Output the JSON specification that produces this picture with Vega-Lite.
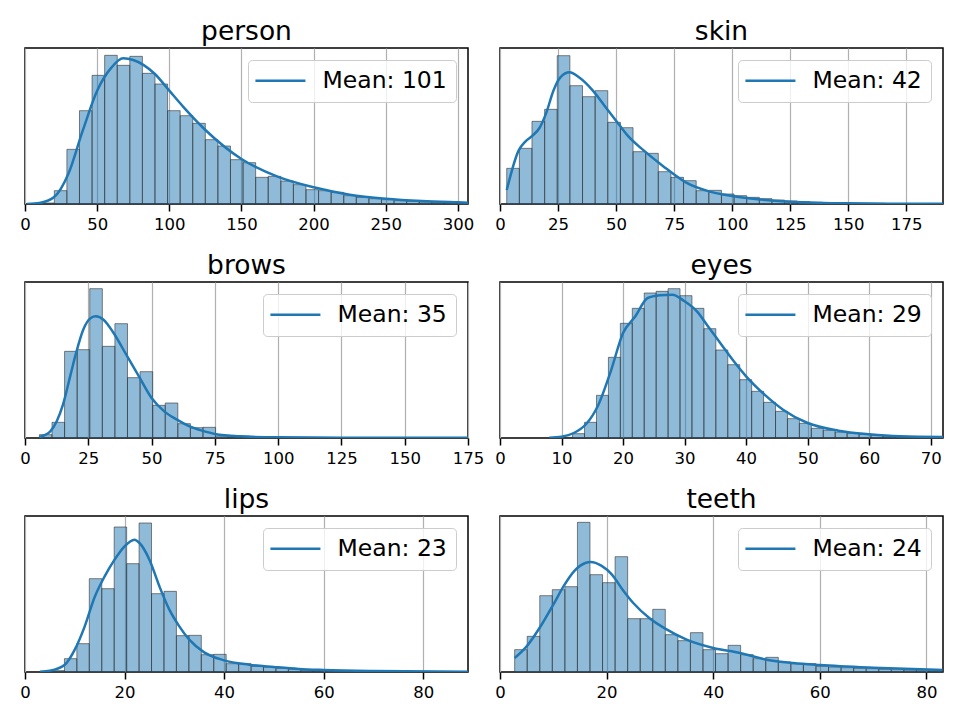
{
  "$schema": "https://vega.github.io/schema/vega-lite/v6.json",
  "background": "white",
  "padding": {"left": 19, "top": 17, "right": 10, "bottom": 10},
  "bounds": "flush",
  "columns": 2,
  "spacing": {"row": 78, "column": 32},
  "resolve": {"scale": {"color": "independent"}, "legend": {"color": "independent"}},
  "config": {
    "font": "DejaVu Sans",
    "view": {"stroke": "black", "strokeWidth": 1.5},
    "title": {"fontSize": 26.5, "font": "DejaVu Sans", "fontWeight": "normal", "color": "black", "offset": 3, "baseline": "alphabetic", "anchor": "middle"},
    "axisX": {"domain": false, "grid": true, "gridColor": "#b0b0b0", "gridWidth": 1.2, "tickColor": "black", "tickSize": 7, "tickWidth": 1.5, "labelFontSize": 16.5, "labelFont": "DejaVu Sans", "labelColor": "black", "labelPadding": 5, "title": null, "labelFlush": false, "labelOverlap": false},
    "legend": {"orient": "top-right", "offset": 12, "title": null, "symbolType": "M-1.6,0H4.4", "symbolSize": 278, "symbolStrokeWidth": 2.5, "symbolFillColor": "transparent", "labelFontSize": 23.5, "labelFont": "DejaVu Sans", "labelColor": "black", "labelOffset": 42, "padding": 9, "fillColor": "rgba(255,255,255,0.8)", "strokeColor": "#cccccc", "cornerRadius": 4}
  },
  "datasets": {
    "bars": [
      {"p": "person", "a": 11.6, "b": 20.32, "h": 3},
      {"p": "person", "a": 20.32, "b": 29.04, "h": 40},
      {"p": "person", "a": 29.04, "b": 37.76, "h": 164},
      {"p": "person", "a": 37.76, "b": 46.48, "h": 280},
      {"p": "person", "a": 46.48, "b": 55.2, "h": 386},
      {"p": "person", "a": 55.2, "b": 63.92, "h": 446},
      {"p": "person", "a": 63.92, "b": 72.64, "h": 416},
      {"p": "person", "a": 72.64, "b": 81.36, "h": 443},
      {"p": "person", "a": 81.36, "b": 90.08, "h": 392},
      {"p": "person", "a": 90.08, "b": 98.8, "h": 360},
      {"p": "person", "a": 98.8, "b": 107.52, "h": 280},
      {"p": "person", "a": 107.52, "b": 116.24, "h": 265},
      {"p": "person", "a": 116.24, "b": 124.96, "h": 242},
      {"p": "person", "a": 124.96, "b": 133.68, "h": 193},
      {"p": "person", "a": 133.68, "b": 142.4, "h": 174},
      {"p": "person", "a": 142.4, "b": 151.12, "h": 133},
      {"p": "person", "a": 151.12, "b": 159.84, "h": 124},
      {"p": "person", "a": 159.84, "b": 168.56, "h": 80},
      {"p": "person", "a": 168.56, "b": 177.28, "h": 83},
      {"p": "person", "a": 177.28, "b": 186.0, "h": 69},
      {"p": "person", "a": 186.0, "b": 194.72, "h": 58},
      {"p": "person", "a": 194.72, "b": 203.44, "h": 43},
      {"p": "person", "a": 203.44, "b": 212.16, "h": 40},
      {"p": "person", "a": 212.16, "b": 220.88, "h": 35},
      {"p": "person", "a": 220.88, "b": 229.6, "h": 25},
      {"p": "person", "a": 229.6, "b": 238.32, "h": 20},
      {"p": "person", "a": 238.32, "b": 247.04, "h": 16},
      {"p": "person", "a": 247.04, "b": 255.76, "h": 13},
      {"p": "person", "a": 255.76, "b": 264.48, "h": 10},
      {"p": "person", "a": 264.48, "b": 273.2, "h": 8},
      {"p": "person", "a": 273.2, "b": 281.92, "h": 6},
      {"p": "person", "a": 281.92, "b": 290.64, "h": 5},
      {"p": "person", "a": 290.64, "b": 299.36, "h": 4},
      {"p": "person", "a": 299.36, "b": 308.08, "h": 3},

      {"p": "skin", "a": 2.9, "b": 8.34, "h": 107},
      {"p": "skin", "a": 8.34, "b": 13.78, "h": 167},
      {"p": "skin", "a": 13.78, "b": 19.22, "h": 248},
      {"p": "skin", "a": 19.22, "b": 24.66, "h": 284},
      {"p": "skin", "a": 24.66, "b": 30.1, "h": 445},
      {"p": "skin", "a": 30.1, "b": 35.54, "h": 355},
      {"p": "skin", "a": 35.54, "b": 40.98, "h": 322},
      {"p": "skin", "a": 40.98, "b": 46.42, "h": 340},
      {"p": "skin", "a": 46.42, "b": 51.86, "h": 245},
      {"p": "skin", "a": 51.86, "b": 57.3, "h": 229},
      {"p": "skin", "a": 57.3, "b": 62.74, "h": 157},
      {"p": "skin", "a": 62.74, "b": 68.18, "h": 152},
      {"p": "skin", "a": 68.18, "b": 73.62, "h": 97},
      {"p": "skin", "a": 73.62, "b": 79.06, "h": 80},
      {"p": "skin", "a": 79.06, "b": 84.5, "h": 70},
      {"p": "skin", "a": 84.5, "b": 89.94, "h": 40},
      {"p": "skin", "a": 89.94, "b": 95.38, "h": 41},
      {"p": "skin", "a": 95.38, "b": 100.82, "h": 30},
      {"p": "skin", "a": 100.82, "b": 106.26, "h": 25},
      {"p": "skin", "a": 106.26, "b": 111.7, "h": 20},
      {"p": "skin", "a": 111.7, "b": 117.14, "h": 16},
      {"p": "skin", "a": 117.14, "b": 122.58, "h": 12},
      {"p": "skin", "a": 122.58, "b": 128.02, "h": 9},
      {"p": "skin", "a": 128.02, "b": 133.46, "h": 7},
      {"p": "skin", "a": 133.46, "b": 138.9, "h": 5},
      {"p": "skin", "a": 138.9, "b": 144.34, "h": 4},
      {"p": "skin", "a": 144.34, "b": 149.78, "h": 3},
      {"p": "skin", "a": 149.78, "b": 155.22, "h": 2},
      {"p": "skin", "a": 155.22, "b": 160.66, "h": 2},
      {"p": "skin", "a": 160.66, "b": 166.1, "h": 2},
      {"p": "skin", "a": 166.1, "b": 171.54, "h": 1},
      {"p": "skin", "a": 171.54, "b": 176.98, "h": 1},
      {"p": "skin", "a": 176.98, "b": 182.42, "h": 1},
      {"p": "skin", "a": 182.42, "b": 187.86, "h": 1},
      {"p": "skin", "a": 187.86, "b": 193.3, "h": 1},

      {"p": "brows", "a": 5.7, "b": 10.67, "h": 10},
      {"p": "brows", "a": 10.67, "b": 15.64, "h": 47},
      {"p": "brows", "a": 15.64, "b": 20.61, "h": 260},
      {"p": "brows", "a": 20.61, "b": 25.58, "h": 265},
      {"p": "brows", "a": 25.58, "b": 30.55, "h": 448},
      {"p": "brows", "a": 30.55, "b": 35.52, "h": 275},
      {"p": "brows", "a": 35.52, "b": 40.49, "h": 343},
      {"p": "brows", "a": 40.49, "b": 45.46, "h": 181},
      {"p": "brows", "a": 45.46, "b": 50.43, "h": 199},
      {"p": "brows", "a": 50.43, "b": 55.4, "h": 98},
      {"p": "brows", "a": 55.4, "b": 60.37, "h": 105},
      {"p": "brows", "a": 60.37, "b": 65.34, "h": 43},
      {"p": "brows", "a": 65.34, "b": 70.31, "h": 31},
      {"p": "brows", "a": 70.31, "b": 75.28, "h": 32},
      {"p": "brows", "a": 75.28, "b": 80.25, "h": 6},
      {"p": "brows", "a": 80.25, "b": 85.22, "h": 3},
      {"p": "brows", "a": 85.22, "b": 90.19, "h": 2},
      {"p": "brows", "a": 90.19, "b": 95.16, "h": 1},
      {"p": "brows", "a": 95.16, "b": 100.13, "h": 1},
      {"p": "brows", "a": 100.13, "b": 105.1, "h": 1},

      {"p": "eyes", "a": 9.86, "b": 11.8, "h": 2},
      {"p": "eyes", "a": 11.8, "b": 13.74, "h": 13},
      {"p": "eyes", "a": 13.74, "b": 15.68, "h": 47},
      {"p": "eyes", "a": 15.68, "b": 17.62, "h": 128},
      {"p": "eyes", "a": 17.62, "b": 19.56, "h": 242},
      {"p": "eyes", "a": 19.56, "b": 21.5, "h": 344},
      {"p": "eyes", "a": 21.5, "b": 23.44, "h": 389},
      {"p": "eyes", "a": 23.44, "b": 25.38, "h": 435},
      {"p": "eyes", "a": 25.38, "b": 27.32, "h": 440},
      {"p": "eyes", "a": 27.32, "b": 29.26, "h": 448},
      {"p": "eyes", "a": 29.26, "b": 31.2, "h": 427},
      {"p": "eyes", "a": 31.2, "b": 33.14, "h": 389},
      {"p": "eyes", "a": 33.14, "b": 35.08, "h": 328},
      {"p": "eyes", "a": 35.08, "b": 37.02, "h": 264},
      {"p": "eyes", "a": 37.02, "b": 38.96, "h": 220},
      {"p": "eyes", "a": 38.96, "b": 40.9, "h": 175},
      {"p": "eyes", "a": 40.9, "b": 42.84, "h": 140},
      {"p": "eyes", "a": 42.84, "b": 44.78, "h": 107},
      {"p": "eyes", "a": 44.78, "b": 46.72, "h": 80},
      {"p": "eyes", "a": 46.72, "b": 48.66, "h": 58},
      {"p": "eyes", "a": 48.66, "b": 50.6, "h": 44},
      {"p": "eyes", "a": 50.6, "b": 52.54, "h": 29},
      {"p": "eyes", "a": 52.54, "b": 54.48, "h": 23},
      {"p": "eyes", "a": 54.48, "b": 56.42, "h": 18},
      {"p": "eyes", "a": 56.42, "b": 58.36, "h": 14},
      {"p": "eyes", "a": 58.36, "b": 60.3, "h": 11},
      {"p": "eyes", "a": 60.3, "b": 62.24, "h": 8},
      {"p": "eyes", "a": 62.24, "b": 64.18, "h": 6},
      {"p": "eyes", "a": 64.18, "b": 66.12, "h": 5},
      {"p": "eyes", "a": 66.12, "b": 68.06, "h": 4},
      {"p": "eyes", "a": 68.06, "b": 70.0, "h": 3},
      {"p": "eyes", "a": 70.0, "b": 71.94, "h": 2},
      {"p": "eyes", "a": 71.94, "b": 73.88, "h": 2},

      {"p": "lips", "a": 5.42, "b": 7.92, "h": 4},
      {"p": "lips", "a": 7.92, "b": 10.42, "h": 40},
      {"p": "lips", "a": 10.42, "b": 12.92, "h": 85},
      {"p": "lips", "a": 12.92, "b": 15.42, "h": 280},
      {"p": "lips", "a": 15.42, "b": 17.92, "h": 250},
      {"p": "lips", "a": 17.92, "b": 20.42, "h": 435},
      {"p": "lips", "a": 20.42, "b": 22.92, "h": 325},
      {"p": "lips", "a": 22.92, "b": 25.42, "h": 447},
      {"p": "lips", "a": 25.42, "b": 27.92, "h": 235},
      {"p": "lips", "a": 27.92, "b": 30.42, "h": 242},
      {"p": "lips", "a": 30.42, "b": 32.92, "h": 109},
      {"p": "lips", "a": 32.92, "b": 35.42, "h": 110},
      {"p": "lips", "a": 35.42, "b": 37.92, "h": 52},
      {"p": "lips", "a": 37.92, "b": 40.42, "h": 53},
      {"p": "lips", "a": 40.42, "b": 42.92, "h": 25},
      {"p": "lips", "a": 42.92, "b": 45.42, "h": 25},
      {"p": "lips", "a": 45.42, "b": 47.92, "h": 17},
      {"p": "lips", "a": 47.92, "b": 50.42, "h": 15},
      {"p": "lips", "a": 50.42, "b": 52.92, "h": 11},
      {"p": "lips", "a": 52.92, "b": 55.42, "h": 8},
      {"p": "lips", "a": 55.42, "b": 57.92, "h": 5},
      {"p": "lips", "a": 57.92, "b": 60.42, "h": 4},
      {"p": "lips", "a": 60.42, "b": 62.92, "h": 3},
      {"p": "lips", "a": 62.92, "b": 65.42, "h": 3},
      {"p": "lips", "a": 65.42, "b": 67.92, "h": 2},
      {"p": "lips", "a": 67.92, "b": 70.42, "h": 2},
      {"p": "lips", "a": 70.42, "b": 72.92, "h": 2},
      {"p": "lips", "a": 72.92, "b": 75.42, "h": 1},
      {"p": "lips", "a": 75.42, "b": 77.92, "h": 1},
      {"p": "lips", "a": 77.92, "b": 80.42, "h": 1},
      {"p": "lips", "a": 80.42, "b": 82.92, "h": 1},
      {"p": "lips", "a": 82.92, "b": 85.42, "h": 1},
      {"p": "lips", "a": 85.42, "b": 87.92, "h": 1},
      {"p": "lips", "a": 87.92, "b": 90.42, "h": 1},

      {"p": "teeth", "a": 2.75, "b": 5.105, "h": 67},
      {"p": "teeth", "a": 5.105, "b": 7.46, "h": 107},
      {"p": "teeth", "a": 7.46, "b": 9.815, "h": 229},
      {"p": "teeth", "a": 9.815, "b": 12.17, "h": 247},
      {"p": "teeth", "a": 12.17, "b": 14.525, "h": 256},
      {"p": "teeth", "a": 14.525, "b": 16.88, "h": 449},
      {"p": "teeth", "a": 16.88, "b": 19.235, "h": 292},
      {"p": "teeth", "a": 19.235, "b": 21.59, "h": 268},
      {"p": "teeth", "a": 21.59, "b": 23.945, "h": 346},
      {"p": "teeth", "a": 23.945, "b": 26.3, "h": 160},
      {"p": "teeth", "a": 26.3, "b": 28.655, "h": 160},
      {"p": "teeth", "a": 28.655, "b": 31.01, "h": 188},
      {"p": "teeth", "a": 31.01, "b": 33.365, "h": 112},
      {"p": "teeth", "a": 33.365, "b": 35.72, "h": 94},
      {"p": "teeth", "a": 35.72, "b": 38.075, "h": 118},
      {"p": "teeth", "a": 38.075, "b": 40.43, "h": 67},
      {"p": "teeth", "a": 40.43, "b": 42.785, "h": 55},
      {"p": "teeth", "a": 42.785, "b": 45.14, "h": 80},
      {"p": "teeth", "a": 45.14, "b": 47.495, "h": 52},
      {"p": "teeth", "a": 47.495, "b": 49.85, "h": 40},
      {"p": "teeth", "a": 49.85, "b": 52.205, "h": 44},
      {"p": "teeth", "a": 52.205, "b": 54.56, "h": 30},
      {"p": "teeth", "a": 54.56, "b": 56.915, "h": 25},
      {"p": "teeth", "a": 56.915, "b": 59.27, "h": 25},
      {"p": "teeth", "a": 59.27, "b": 61.625, "h": 17},
      {"p": "teeth", "a": 61.625, "b": 63.98, "h": 15},
      {"p": "teeth", "a": 63.98, "b": 66.335, "h": 13},
      {"p": "teeth", "a": 66.335, "b": 68.69, "h": 11},
      {"p": "teeth", "a": 68.69, "b": 71.045, "h": 10},
      {"p": "teeth", "a": 71.045, "b": 73.4, "h": 8},
      {"p": "teeth", "a": 73.4, "b": 75.755, "h": 7},
      {"p": "teeth", "a": 75.755, "b": 78.11, "h": 6},
      {"p": "teeth", "a": 78.11, "b": 80.465, "h": 5},
      {"p": "teeth", "a": 80.465, "b": 82.82, "h": 4},
      {"p": "teeth", "a": 82.82, "b": 85.175, "h": 3}
    ],
    "kde": [
      {"p": "person", "x": 1.4, "y": 0},
      {"p": "person", "x": 10, "y": 3},
      {"p": "person", "x": 20, "y": 20},
      {"p": "person", "x": 30, "y": 90},
      {"p": "person", "x": 40, "y": 220},
      {"p": "person", "x": 50, "y": 340},
      {"p": "person", "x": 60, "y": 410},
      {"p": "person", "x": 68, "y": 437},
      {"p": "person", "x": 75, "y": 432},
      {"p": "person", "x": 90, "y": 390},
      {"p": "person", "x": 100, "y": 340},
      {"p": "person", "x": 110, "y": 290},
      {"p": "person", "x": 125, "y": 222},
      {"p": "person", "x": 150, "y": 135},
      {"p": "person", "x": 175, "y": 82},
      {"p": "person", "x": 200, "y": 50},
      {"p": "person", "x": 225, "y": 28},
      {"p": "person", "x": 250, "y": 16},
      {"p": "person", "x": 275, "y": 9},
      {"p": "person", "x": 300, "y": 5},
      {"p": "person", "x": 307, "y": 4},

      {"p": "skin", "x": 2.9, "y": 42},
      {"p": "skin", "x": 8, "y": 160},
      {"p": "skin", "x": 11, "y": 188},
      {"p": "skin", "x": 14, "y": 205},
      {"p": "skin", "x": 17, "y": 228},
      {"p": "skin", "x": 20, "y": 275},
      {"p": "skin", "x": 23, "y": 340},
      {"p": "skin", "x": 26, "y": 380},
      {"p": "skin", "x": 30, "y": 395},
      {"p": "skin", "x": 34, "y": 380},
      {"p": "skin", "x": 40, "y": 340},
      {"p": "skin", "x": 45, "y": 295},
      {"p": "skin", "x": 50, "y": 250},
      {"p": "skin", "x": 55, "y": 205},
      {"p": "skin", "x": 62, "y": 160},
      {"p": "skin", "x": 70, "y": 115},
      {"p": "skin", "x": 80, "y": 65},
      {"p": "skin", "x": 90, "y": 38},
      {"p": "skin", "x": 100, "y": 24},
      {"p": "skin", "x": 110, "y": 15},
      {"p": "skin", "x": 125, "y": 7},
      {"p": "skin", "x": 150, "y": 2},
      {"p": "skin", "x": 175, "y": 1},
      {"p": "skin", "x": 191, "y": 1},

      {"p": "brows", "x": 5.7, "y": 3},
      {"p": "brows", "x": 10, "y": 20},
      {"p": "brows", "x": 15, "y": 100},
      {"p": "brows", "x": 18, "y": 190},
      {"p": "brows", "x": 20, "y": 250},
      {"p": "brows", "x": 23, "y": 325},
      {"p": "brows", "x": 26, "y": 360},
      {"p": "brows", "x": 28, "y": 365},
      {"p": "brows", "x": 31, "y": 355},
      {"p": "brows", "x": 35, "y": 315},
      {"p": "brows", "x": 40, "y": 250},
      {"p": "brows", "x": 45, "y": 185},
      {"p": "brows", "x": 50, "y": 120},
      {"p": "brows", "x": 55, "y": 80},
      {"p": "brows", "x": 60, "y": 55},
      {"p": "brows", "x": 65, "y": 35},
      {"p": "brows", "x": 70, "y": 22},
      {"p": "brows", "x": 75, "y": 12},
      {"p": "brows", "x": 85, "y": 5},
      {"p": "brows", "x": 100, "y": 2},
      {"p": "brows", "x": 125, "y": 1},
      {"p": "brows", "x": 175, "y": 1},

      {"p": "eyes", "x": 8, "y": 1},
      {"p": "eyes", "x": 10, "y": 4},
      {"p": "eyes", "x": 12, "y": 15},
      {"p": "eyes", "x": 14, "y": 42},
      {"p": "eyes", "x": 16, "y": 100},
      {"p": "eyes", "x": 18, "y": 200},
      {"p": "eyes", "x": 20, "y": 315},
      {"p": "eyes", "x": 22, "y": 365},
      {"p": "eyes", "x": 24, "y": 420},
      {"p": "eyes", "x": 26, "y": 428},
      {"p": "eyes", "x": 28, "y": 430},
      {"p": "eyes", "x": 30, "y": 410},
      {"p": "eyes", "x": 32, "y": 380},
      {"p": "eyes", "x": 34, "y": 330},
      {"p": "eyes", "x": 36, "y": 280},
      {"p": "eyes", "x": 38, "y": 230},
      {"p": "eyes", "x": 40, "y": 185},
      {"p": "eyes", "x": 43, "y": 130},
      {"p": "eyes", "x": 46, "y": 85},
      {"p": "eyes", "x": 50, "y": 45},
      {"p": "eyes", "x": 55, "y": 22},
      {"p": "eyes", "x": 60, "y": 11},
      {"p": "eyes", "x": 65, "y": 5},
      {"p": "eyes", "x": 72, "y": 3},

      {"p": "lips", "x": 3, "y": 1},
      {"p": "lips", "x": 5, "y": 4},
      {"p": "lips", "x": 8, "y": 22},
      {"p": "lips", "x": 10, "y": 67},
      {"p": "lips", "x": 12, "y": 137},
      {"p": "lips", "x": 14, "y": 225},
      {"p": "lips", "x": 16, "y": 287},
      {"p": "lips", "x": 18, "y": 337},
      {"p": "lips", "x": 20, "y": 377},
      {"p": "lips", "x": 22, "y": 397},
      {"p": "lips", "x": 23, "y": 387},
      {"p": "lips", "x": 25, "y": 337},
      {"p": "lips", "x": 27, "y": 257},
      {"p": "lips", "x": 29, "y": 187},
      {"p": "lips", "x": 31, "y": 137},
      {"p": "lips", "x": 33, "y": 97},
      {"p": "lips", "x": 36, "y": 59},
      {"p": "lips", "x": 40, "y": 35},
      {"p": "lips", "x": 45, "y": 22},
      {"p": "lips", "x": 50, "y": 15},
      {"p": "lips", "x": 55, "y": 9},
      {"p": "lips", "x": 60, "y": 6},
      {"p": "lips", "x": 70, "y": 3},
      {"p": "lips", "x": 89, "y": 1},

      {"p": "teeth", "x": 2.75, "y": 42},
      {"p": "teeth", "x": 5, "y": 77},
      {"p": "teeth", "x": 8, "y": 147},
      {"p": "teeth", "x": 10, "y": 202},
      {"p": "teeth", "x": 12, "y": 259},
      {"p": "teeth", "x": 14, "y": 304},
      {"p": "teeth", "x": 16, "y": 327},
      {"p": "teeth", "x": 17, "y": 330},
      {"p": "teeth", "x": 19, "y": 319},
      {"p": "teeth", "x": 21, "y": 292},
      {"p": "teeth", "x": 23, "y": 247},
      {"p": "teeth", "x": 25, "y": 207},
      {"p": "teeth", "x": 28, "y": 162},
      {"p": "teeth", "x": 31, "y": 130},
      {"p": "teeth", "x": 35, "y": 97},
      {"p": "teeth", "x": 40, "y": 72},
      {"p": "teeth", "x": 45, "y": 57},
      {"p": "teeth", "x": 50, "y": 37},
      {"p": "teeth", "x": 55, "y": 27},
      {"p": "teeth", "x": 60, "y": 21},
      {"p": "teeth", "x": 70, "y": 13},
      {"p": "teeth", "x": 83, "y": 6}
    ]
  },
  "concat": [
    {
      "width": 443, "height": 156, "title": "person",
      "layer": [
        {"data": {"name": "bars"}, "transform": [{"filter": "datum.p == 'person'"}],
         "mark": {"type": "rect", "fill": "#1f77b4", "fillOpacity": 0.5, "stroke": "#333333", "strokeOpacity": 0.6, "strokeWidth": 1, "clip": true},
         "encoding": {
           "x": {"field": "a", "type": "quantitative", "scale": {"domain": [0, 307], "nice": false, "zero": false}, "axis": {"values": [0, 50, 100, 150, 200, 250, 300]}},
           "x2": {"field": "b"},
           "y": {"field": "h", "type": "quantitative", "scale": {"domain": [0, 468], "nice": false}, "axis": null},
           "y2": {"datum": 0}}},
        {"data": {"name": "kde"}, "transform": [{"filter": "datum.p == 'person'"}],
         "mark": {"type": "line", "strokeWidth": 2.5, "clip": true, "interpolate": "monotone"},
         "encoding": {
           "x": {"field": "x", "type": "quantitative"},
           "y": {"field": "y", "type": "quantitative"},
           "color": {"datum": "Mean: 101", "type": "nominal", "scale": {"range": ["#1f77b4"]}}}}
      ]
    },
    {
      "width": 443, "height": 156, "title": "skin",
      "layer": [
        {"data": {"name": "bars"}, "transform": [{"filter": "datum.p == 'skin'"}],
         "mark": {"type": "rect", "fill": "#1f77b4", "fillOpacity": 0.5, "stroke": "#333333", "strokeOpacity": 0.6, "strokeWidth": 1, "clip": true},
         "encoding": {
           "x": {"field": "a", "type": "quantitative", "scale": {"domain": [0, 190.8], "nice": false, "zero": false}, "axis": {"values": [0, 25, 50, 75, 100, 125, 150, 175]}},
           "x2": {"field": "b"},
           "y": {"field": "h", "type": "quantitative", "scale": {"domain": [0, 468], "nice": false}, "axis": null},
           "y2": {"datum": 0}}},
        {"data": {"name": "kde"}, "transform": [{"filter": "datum.p == 'skin'"}],
         "mark": {"type": "line", "strokeWidth": 2.5, "clip": true, "interpolate": "monotone"},
         "encoding": {
           "x": {"field": "x", "type": "quantitative"},
           "y": {"field": "y", "type": "quantitative"},
           "color": {"datum": "Mean: 42", "type": "nominal", "scale": {"range": ["#1f77b4"]}}}}
      ]
    },
    {
      "width": 443, "height": 156, "title": "brows",
      "layer": [
        {"data": {"name": "bars"}, "transform": [{"filter": "datum.p == 'brows'"}],
         "mark": {"type": "rect", "fill": "#1f77b4", "fillOpacity": 0.5, "stroke": "#333333", "strokeOpacity": 0.6, "strokeWidth": 1, "clip": true},
         "encoding": {
           "x": {"field": "a", "type": "quantitative", "scale": {"domain": [0, 175], "nice": false, "zero": false}, "axis": {"values": [0, 25, 50, 75, 100, 125, 150, 175]}},
           "x2": {"field": "b"},
           "y": {"field": "h", "type": "quantitative", "scale": {"domain": [0, 468], "nice": false}, "axis": null},
           "y2": {"datum": 0}}},
        {"data": {"name": "kde"}, "transform": [{"filter": "datum.p == 'brows'"}],
         "mark": {"type": "line", "strokeWidth": 2.5, "clip": true, "interpolate": "monotone"},
         "encoding": {
           "x": {"field": "x", "type": "quantitative"},
           "y": {"field": "y", "type": "quantitative"},
           "color": {"datum": "Mean: 35", "type": "nominal", "scale": {"range": ["#1f77b4"]}}}}
      ]
    },
    {
      "width": 443, "height": 156, "title": "eyes",
      "layer": [
        {"data": {"name": "bars"}, "transform": [{"filter": "datum.p == 'eyes'"}],
         "mark": {"type": "rect", "fill": "#1f77b4", "fillOpacity": 0.5, "stroke": "#333333", "strokeOpacity": 0.6, "strokeWidth": 1, "clip": true},
         "encoding": {
           "x": {"field": "a", "type": "quantitative", "scale": {"domain": [0, 72], "nice": false, "zero": false}, "axis": {"values": [0, 10, 20, 30, 40, 50, 60, 70]}},
           "x2": {"field": "b"},
           "y": {"field": "h", "type": "quantitative", "scale": {"domain": [0, 468], "nice": false}, "axis": null},
           "y2": {"datum": 0}}},
        {"data": {"name": "kde"}, "transform": [{"filter": "datum.p == 'eyes'"}],
         "mark": {"type": "line", "strokeWidth": 2.5, "clip": true, "interpolate": "monotone"},
         "encoding": {
           "x": {"field": "x", "type": "quantitative"},
           "y": {"field": "y", "type": "quantitative"},
           "color": {"datum": "Mean: 29", "type": "nominal", "scale": {"range": ["#1f77b4"]}}}}
      ]
    },
    {
      "width": 443, "height": 156, "title": "lips",
      "layer": [
        {"data": {"name": "bars"}, "transform": [{"filter": "datum.p == 'lips'"}],
         "mark": {"type": "rect", "fill": "#1f77b4", "fillOpacity": 0.5, "stroke": "#333333", "strokeOpacity": 0.6, "strokeWidth": 1, "clip": true},
         "encoding": {
           "x": {"field": "a", "type": "quantitative", "scale": {"domain": [0, 89], "nice": false, "zero": false}, "axis": {"values": [0, 20, 40, 60, 80]}},
           "x2": {"field": "b"},
           "y": {"field": "h", "type": "quantitative", "scale": {"domain": [0, 468], "nice": false}, "axis": null},
           "y2": {"datum": 0}}},
        {"data": {"name": "kde"}, "transform": [{"filter": "datum.p == 'lips'"}],
         "mark": {"type": "line", "strokeWidth": 2.5, "clip": true, "interpolate": "monotone"},
         "encoding": {
           "x": {"field": "x", "type": "quantitative"},
           "y": {"field": "y", "type": "quantitative"},
           "color": {"datum": "Mean: 23", "type": "nominal", "scale": {"range": ["#1f77b4"]}}}}
      ]
    },
    {
      "width": 443, "height": 156, "title": "teeth",
      "layer": [
        {"data": {"name": "bars"}, "transform": [{"filter": "datum.p == 'teeth'"}],
         "mark": {"type": "rect", "fill": "#1f77b4", "fillOpacity": 0.5, "stroke": "#333333", "strokeOpacity": 0.6, "strokeWidth": 1, "clip": true},
         "encoding": {
           "x": {"field": "a", "type": "quantitative", "scale": {"domain": [0, 83.1], "nice": false, "zero": false}, "axis": {"values": [0, 20, 40, 60, 80]}},
           "x2": {"field": "b"},
           "y": {"field": "h", "type": "quantitative", "scale": {"domain": [0, 468], "nice": false}, "axis": null},
           "y2": {"datum": 0}}},
        {"data": {"name": "kde"}, "transform": [{"filter": "datum.p == 'teeth'"}],
         "mark": {"type": "line", "strokeWidth": 2.5, "clip": true, "interpolate": "monotone"},
         "encoding": {
           "x": {"field": "x", "type": "quantitative"},
           "y": {"field": "y", "type": "quantitative"},
           "color": {"datum": "Mean: 24", "type": "nominal", "scale": {"range": ["#1f77b4"]}}}}
      ]
    }
  ]
}
